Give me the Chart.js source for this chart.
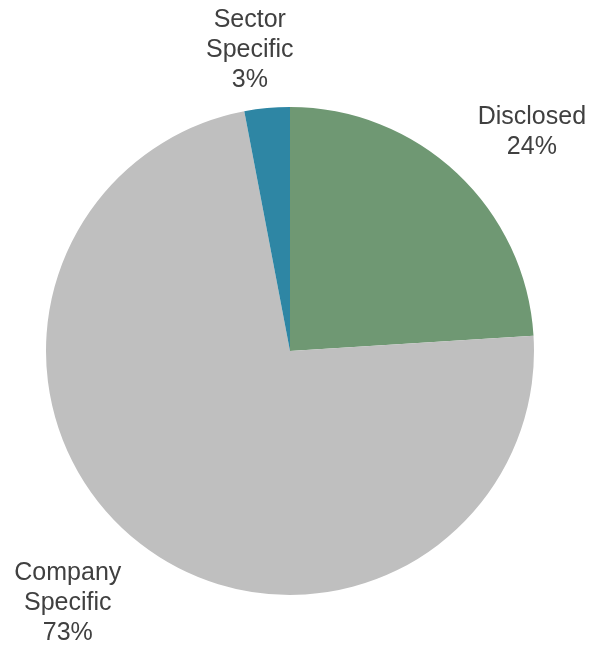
<!DOCTYPE html>
<html>
<head>
<meta charset="utf-8">
<script src="https://cdn.jsdelivr.net/npm/chart.js@4"></script>
<style>
html,body{margin:0;padding:0;background:#fff;}
#wrap{width:594px;height:649px;position:relative;}
</style>
</head>
<body>
<div id="wrap"><canvas id="c" width="594" height="649"></canvas></div>
<script>
const categories = ["Disclosed", "Company Specific", "Sector Specific"];
const labelLines = [["Disclosed", "24%"], ["Company", "Specific", "73%"], ["Sector", "Specific", "3%"]];
const values = [24, 73, 3];
const colors = ["#6f9873", "#bfbfbf", "#2e86a4"];

// label placement relative to each slice: [angle tweak in degrees, distance as multiple of radius]
const labelPlacement = [[4.7, 1.336], [3.6, 1.377], [-2.2, 1.246]];

const labelPlugin = {
  id: 'outLabels',
  afterDatasetsDraw(chart) {
    const ctx = chart.ctx;
    const meta = chart.getDatasetMeta(0);
    ctx.save();
    ctx.font = '25px "Liberation Sans", Arial, sans-serif';
    ctx.fillStyle = '#404040';
    ctx.textAlign = 'center';
    ctx.textBaseline = 'middle';
    const lh = 30;
    meta.data.forEach((arc, i) => {
      const p = arc.getProps(['x','y','startAngle','endAngle','outerRadius'], true);
      const mid = (p.startAngle + p.endAngle) / 2 + labelPlacement[i][0] * Math.PI / 180;
      const r = p.outerRadius * labelPlacement[i][1];
      const cx = p.x + Math.cos(mid) * r;
      const cy = p.y + Math.sin(mid) * r;
      const lines = labelLines[i];
      const y0 = cy - (lines.length - 1) * lh / 2;
      lines.forEach((t, k) => ctx.fillText(t, cx, y0 + k * lh));
    });
    ctx.restore();
  }
};

new Chart(document.getElementById('c'), {
  type: 'pie',
  data: {
    labels: categories,
    datasets: [{
      data: values,
      backgroundColor: colors,
      borderWidth: 0,
      hoverOffset: 0
    }]
  },
  options: {
    responsive: false,
    animation: false,
    layout: { padding: { left: 46, right: 60, top: 107, bottom: 54 } },
    plugins: {
      legend: { display: false },
      tooltip: { enabled: false },
      title: { display: false }
    }
  },
  plugins: [labelPlugin]
});
</script>
</body>
</html>
